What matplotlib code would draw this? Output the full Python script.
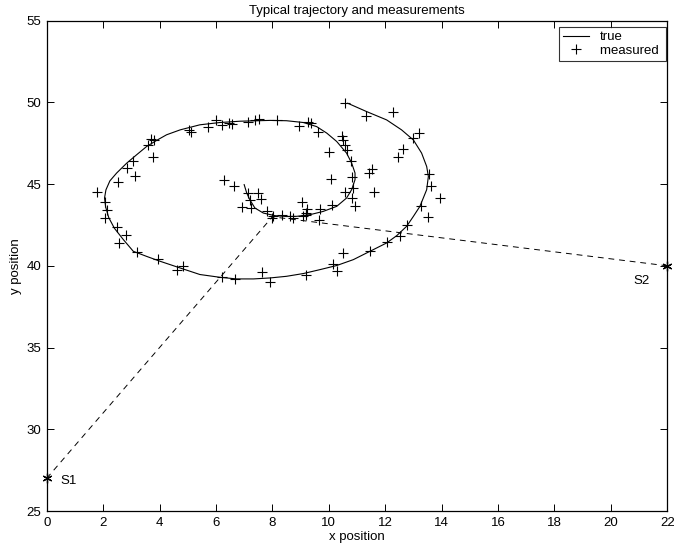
import matplotlib
matplotlib.use("Agg")
import matplotlib.pyplot as plt
import numpy as np

plt.rcParams['font.family'] = ['Liberation Sans', 'DejaVu Sans']

# true trajectory
true_x = [10.67, 11.34, 12.05, 12.58, 13.0, 13.29, 13.47, 13.53, 13.47, 13.23,
          13.0, 12.76, 12.41, 12.05, 11.46, 10.87, 10.28, 9.69, 9.1, 8.5,
          7.92, 7.33, 6.73, 6.14, 5.43, 4.73, 4.02, 3.54, 3.07, 2.72,
          2.4, 2.2, 2.09, 2.05, 2.1, 2.24, 2.48, 2.84, 3.19, 3.54,
          3.9, 4.25, 4.73, 5.43, 6.14, 6.85, 7.92, 8.5, 9.1, 9.57,
          9.93, 10.28, 10.63, 10.81, 10.93, 10.93, 10.81, 10.63, 10.28, 9.8,
          9.33, 8.86, 8.5, 8.09, 7.68, 7.38, 7.2, 7.09, 7.0]
true_y = [49.95, 49.44, 48.93, 48.32, 47.7, 46.9, 46.08, 45.47, 44.66, 43.64,
          43.03, 42.42, 41.85, 41.4, 40.89, 40.38, 40.02, 39.77, 39.53, 39.36,
          39.26, 39.2, 39.2, 39.3, 39.47, 39.87, 40.28, 40.58, 40.89, 41.6,
          42.3, 42.95, 43.6, 44.15, 44.65, 45.2, 45.68, 46.29, 46.8, 47.3,
          47.68, 48.02, 48.32, 48.63, 48.77, 48.85, 48.9, 48.88, 48.77, 48.52,
          48.12, 47.61, 46.9, 46.29, 45.68, 45.27, 44.66, 44.15, 43.64, 43.33,
          43.13, 43.03, 43.02, 43.07, 43.23, 43.54, 44.05, 44.46, 44.97]

# measured positions
meas_x = [1.79, 2.07, 2.15, 2.07, 2.5, 2.81, 2.57, 3.19, 3.96, 4.61,
          4.82, 6.2, 6.67, 2.54, 3.13, 2.84, 3.05, 3.6, 3.69, 3.8,
          3.78, 5.06, 5.1, 5.73, 6.0, 6.2, 6.47, 6.56, 6.29, 6.64,
          7.15, 7.38, 7.54, 8.17, 8.95, 9.27, 9.36, 9.63, 10.46, 10.51,
          10.57, 10.63, 10.02, 10.78, 10.07, 10.81, 10.87, 10.57, 10.81, 10.93,
          10.1, 9.69, 9.66, 9.24, 9.04, 9.19, 9.1, 9.2, 8.74, 8.62,
          8.33, 8.03, 7.98, 7.8, 7.15, 7.5, 7.59, 7.21, 6.91, 7.23,
          10.57, 11.31, 12.27, 12.97, 13.21, 12.64, 12.46, 11.52, 11.44, 11.61,
          13.56, 13.61, 13.94, 13.26, 13.53, 12.78, 12.52, 12.07, 11.46, 10.49,
          10.16, 10.28, 9.19, 7.92, 7.62]
meas_y = [44.54, 43.88, 43.39, 42.93, 42.38, 41.91, 41.4, 40.83, 40.42, 39.73,
          39.97, 39.3, 39.2, 45.1, 45.47, 45.98, 46.43, 47.41, 47.76, 47.71,
          46.69, 48.32, 48.16, 48.52, 48.93, 48.63, 48.77, 48.67, 45.24, 44.9,
          48.83, 48.93, 48.99, 48.93, 48.57, 48.83, 48.73, 48.22, 47.96, 47.71,
          47.41, 47.1, 46.96, 46.39, 45.31, 45.43, 44.76, 44.49, 44.15, 43.68,
          43.74, 43.48, 42.78, 43.48, 43.88, 43.23, 43.05, 43.1, 42.93, 43.03,
          43.13, 43.03, 42.93, 43.33, 44.45, 44.45, 44.09, 44.0, 43.6, 43.54,
          49.95, 49.18, 49.44, 47.81, 48.12, 47.16, 46.69, 45.92, 45.68, 44.49,
          45.62, 44.9, 44.15, 43.68, 42.97, 42.52, 41.85, 41.44, 40.89, 40.79,
          40.14, 39.67, 39.47, 39.02, 39.62]

# sensors and the point they look at
s1 = (0.0, 27.0)
s2 = (22.0, 40.0)
target = (8.0, 43.0)

fig = plt.figure(figsize=(6.74, 5.52), dpi=100)
ax = fig.add_axes([46.7/674, 1 - 511/552, 620.6/674, 490.3/552])

ax.plot(true_x, true_y, '-', color='k', lw=0.8, label='true')
ax.plot(meas_x, meas_y, '+', color='k', ms=6.5, mew=0.8, label='measured ')

for s in (s1, s2):
    ax.plot([s[0], target[0]], [s[1], target[1]], color='k', lw=0.7,
            dashes=(6, 5))
    ax.plot(s[0], s[1], marker=(6, 2, 0), color='k', ms=7, mew=0.9,
            clip_on=False)

ax.text(0.5, 26.85, 'S1', fontsize=9.5, va='center', ha='left')
ax.text(20.8, 39.05, 'S2', fontsize=9.5, va='center', ha='left')

ax.set_xlim(0, 22)
ax.set_ylim(25, 55)
ax.set_xticks(np.arange(0, 23, 2))
ax.set_yticks(np.arange(25, 56, 5))
ax.tick_params(direction='in', length=5, width=0.7, top=True, right=True,
               labelsize=9.5, pad=4)
for sp in ax.spines.values():
    sp.set_linewidth(0.9)

ax.set_xlabel('x position', fontsize=9.5, labelpad=2)
ax.set_ylabel('y position', fontsize=9.5, labelpad=3)
ax.set_title('Typical trajectory and measurements', fontsize=9.5, pad=5)

leg = ax.legend(loc='upper right', bbox_to_anchor=(0.9985, 0.987),
                fontsize=9.5, frameon=True, fancybox=False, borderpad=0.3,
                handlelength=2.0, handletextpad=0.8, labelspacing=0.1,
                borderaxespad=0)
leg.get_frame().set_edgecolor('k')
leg.get_frame().set_linewidth(0.8)

fig.savefig('out.png', dpi=100)
